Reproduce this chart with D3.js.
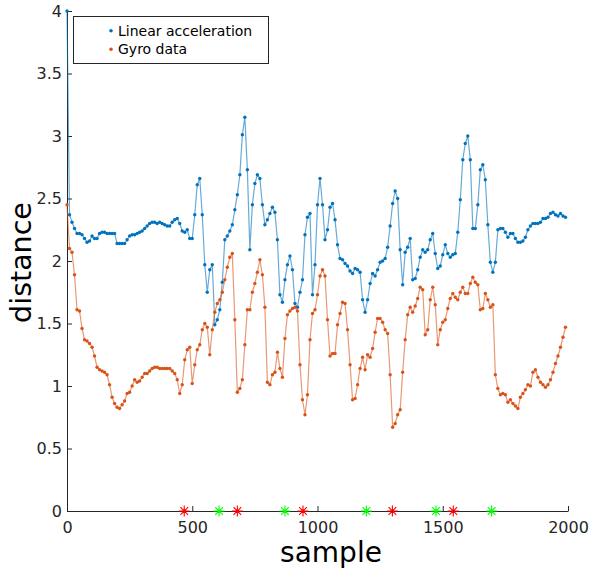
<!DOCTYPE html>
<html>
<head>
<meta charset="utf-8">
<script src="https://cdn.jsdelivr.net/npm/d3@7"></script>
<style>
body { margin: 0; background: #fff; }
text { font-family: "DejaVu Sans", sans-serif; }
</style>
</head>
<body>
<div id="chart"></div>
<script>
//////////////////////////////////////////////////////////////////////////////
// Data: one value every 10 samples

var sampleStep = 10;

var linearAcc = [
    4.00, 2.37, 2.31, 2.26, 2.22, 2.22, 2.21, 2.18, 2.15, 2.16,
    2.20, 2.18, 2.18, 2.22, 2.23, 2.23, 2.22, 2.22, 2.22, 2.22,
    2.14, 2.14, 2.14, 2.14, 2.17, 2.20, 2.21, 2.21, 2.22, 2.23,
    2.24, 2.26, 2.28, 2.30, 2.31, 2.31, 2.30, 2.31, 2.30, 2.29,
    2.28, 2.28, 2.31, 2.33, 2.34, 2.30, 2.24, 2.23, 2.25, 2.18,
    2.18, 2.37, 2.61, 2.66, 2.37, 1.97, 1.75, 1.93, 1.97, 1.49,
    1.53, 1.61, 1.83, 2.17, 2.20, 2.24, 2.29, 2.41, 2.53, 2.69,
    3.01, 3.15, 2.73, 2.09, 2.45, 2.62, 2.69, 2.66, 2.45, 2.29,
    2.33, 2.38, 2.43, 2.39, 2.17, 1.73, 1.67, 1.85, 1.97, 2.04,
    1.93, 1.66, 1.63, 1.75, 1.85, 2.21, 2.35, 2.38, 1.73, 1.97,
    2.45, 2.66, 2.45, 2.17, 2.25, 2.43, 2.46, 2.33, 2.13, 2.02,
    2.01, 1.98, 1.96, 1.92, 1.90, 1.94, 1.93, 1.91, 1.69, 1.59,
    1.69, 1.82, 1.90, 1.88, 1.93, 1.99, 2.00, 2.02, 2.11, 2.28,
    2.46, 2.56, 2.50, 2.09, 1.81, 2.07, 2.11, 2.18, 1.85, 1.86,
    1.93, 2.03, 2.09, 2.07, 2.09, 2.17, 2.22, 2.06, 1.94, 1.96,
    2.05, 2.13, 2.06, 2.03, 2.05, 2.06, 2.23, 2.49, 2.81, 2.94,
    3.00, 2.81, 2.26, 2.26, 2.45, 2.73, 2.77, 2.65, 2.29, 1.99,
    1.91, 1.99, 2.25, 2.26, 2.26, 2.23, 2.19, 2.22, 2.22, 2.18,
    2.15, 2.15, 2.16, 2.19, 2.25, 2.28, 2.30, 2.30, 2.30, 2.31,
    2.34, 2.34, 2.35, 2.38, 2.39, 2.37, 2.36, 2.38, 2.36, 2.35
];

var gyroData = [
    2.45, 2.10, 2.07, 1.89, 1.61, 1.60, 1.46, 1.37, 1.36, 1.34,
    1.31, 1.24, 1.15, 1.13, 1.12, 1.11, 1.09, 1.01, 0.91, 0.86,
    0.83, 0.82, 0.85, 0.88, 0.94, 0.95, 1.00, 1.05, 1.03, 1.04,
    1.07, 1.10, 1.10, 1.12, 1.14, 1.15, 1.15, 1.14, 1.14, 1.14,
    1.14, 1.14, 1.12, 1.10, 1.05, 0.94, 1.01, 1.21, 1.29, 1.31,
    1.02, 1.17, 1.29, 1.33, 1.45, 1.50, 1.47, 1.25, 1.45, 1.59,
    1.66, 1.69, 1.75, 1.85, 1.95, 2.03, 2.06, 1.53, 0.95, 0.98,
    1.05, 1.33, 1.61, 1.61, 1.75, 1.82, 1.91, 2.01, 1.89, 1.63,
    1.03, 1.01, 1.09, 1.11, 1.27, 1.14, 1.07, 1.38, 1.57, 1.60,
    1.62, 1.63, 1.60, 1.17, 0.89, 0.77, 0.93, 1.37, 1.58, 1.61,
    1.73, 1.88, 1.93, 1.88, 1.53, 1.24, 1.26, 1.26, 1.49, 1.58,
    1.67, 1.66, 1.45, 1.17, 0.89, 0.90, 1.01, 1.14, 1.23, 1.13,
    1.25, 1.23, 1.30, 1.43, 1.54, 1.54, 1.51, 1.45, 1.42, 1.09,
    0.67, 0.70, 0.77, 0.81, 1.11, 1.37, 1.57, 1.63, 1.59, 1.64,
    1.70, 1.79, 1.77, 1.41, 1.45, 1.69, 1.79, 1.65, 1.33, 1.45,
    1.51, 1.53, 1.62, 1.70, 1.74, 1.71, 1.69, 1.75, 1.79, 1.74,
    1.74, 1.82, 1.87, 1.83, 1.81, 1.61, 1.62, 1.74, 1.69, 1.63,
    1.65, 1.09, 0.98, 0.93, 0.94, 0.93, 0.87, 0.89, 0.86, 0.84,
    0.82, 0.91, 0.94, 0.97, 1.01, 1.00, 1.11, 1.13, 1.07, 1.03,
    1.01, 0.99, 1.01, 1.05, 1.11, 1.18, 1.24, 1.31, 1.39, 1.47
];

var redEvents   = [468, 680, 942, 1299, 1542];
var greenEvents = [607, 870, 1195, 1473, 1695];

var seriesNames = ["Linear acceleration", "Gyro data"];
var xTicks = [0, 500, 1000, 1500, 2000];
var yTicks = [0, 0.5, 1, 1.5, 2, 2.5, 3, 3.5, 4];

//////////////////////////////////////////////////////////////////////////////
// Global variables, preliminaries

var width = 590, height = 570;
var axisColor = "#262626";
var blue = "#0072bd", orange = "#d95319";

var xScale = d3.scaleLinear().domain([0, 2000]).range([67, 568]);
var yScale = d3.scaleLinear().domain([0, 4]).range([511, 11]);

var svg = d3.select("#chart")
    .append("svg")
    .attr("width", width)
    .attr("height", height);

function toPoints(values)
{
    return values.map(function(v, i) { return { s: i * sampleStep, v: v }; });
}

function drawSeries(values, color)
{
    var pts = toPoints(values);
    var line = d3.line()
        .x(function(d) { return xScale(d.s); })
        .y(function(d) { return yScale(d.v); });

    var g = svg.append("g");
    g.append("path")
        .datum(pts)
        .attr("d", line)
        .attr("fill", "none")
        .attr("stroke", color)
        .attr("stroke-opacity", 0.6)
        .attr("stroke-width", 1.2);

    g.selectAll("circle")
        .data(pts)
        .enter()
        .append("circle")
        .attr("cx", function(d) { return xScale(d.s); })
        .attr("cy", function(d) { return yScale(d.v); })
        .attr("r", 1.7)
        .attr("fill", color);
}

// MATLAB style '*' marker
function starPath(r)
{
    var d = r * 0.7;
    return "M" + (-r) + ",0L" + r + ",0" +
           "M0," + (-r) + "L0," + r +
           "M" + (-d) + "," + (-d) + "L" + d + "," + d +
           "M" + (-d) + "," + d + "L" + d + "," + (-d);
}

function drawStars(samples, color)
{
    svg.append("g")
        .selectAll("path")
        .data(samples)
        .enter()
        .append("path")
        .attr("transform", function(d) {
            return "translate(" + xScale(d) + "," + yScale(0) + ")";
        })
        .attr("d", starPath(5.5))
        .attr("stroke", color)
        .attr("stroke-width", 1.1)
        .attr("fill", "none");
}

//////////////////////////////////////////////////////////////////////////////
// Axes

var xAxis = d3.axisBottom(xScale).tickValues(xTicks)
    .tickSizeInner(-5).tickSizeOuter(0).tickPadding(11)
    .tickFormat(d3.format("d"));
var yAxis = d3.axisLeft(yScale).tickValues(yTicks)
    .tickSizeInner(-5).tickSizeOuter(0).tickPadding(5)
    .tickFormat(function(d) { return String(d); });

var gx = svg.append("g")
    .attr("transform", "translate(0," + yScale(0) + ")")
    .call(xAxis);
var gy = svg.append("g")
    .attr("transform", "translate(" + xScale(0) + ",0)")
    .call(yAxis);

[gx, gy].forEach(function(g) {
    g.select(".domain").attr("stroke", axisColor).attr("stroke-width", 1);
    g.selectAll(".tick line").attr("stroke", axisColor);
    g.selectAll(".tick text")
        .attr("fill", axisColor)
        .style("font-size", "16px")
        .style("font-family", "DejaVu Sans, sans-serif");
});

svg.append("text")
    .attr("x", 331)
    .attr("y", 562)
    .attr("text-anchor", "middle")
    .style("font-size", "28px")
    .attr("fill", "#000")
    .text("sample");

svg.append("text")
    .attr("transform", "translate(31,262.5) rotate(-90)")
    .attr("text-anchor", "middle")
    .style("font-size", "28.5px")
    .attr("fill", "#000")
    .text("distance");

//////////////////////////////////////////////////////////////////////////////
// Series

drawSeries(linearAcc, blue);
drawSeries(gyroData, orange);
drawStars(redEvents, "#ff0000");
drawStars(greenEvents, "#00ff00");

//////////////////////////////////////////////////////////////////////////////
// Legend

var legend = svg.append("g");
legend.append("rect")
    .attr("x", 73.5).attr("y", 16.5)
    .attr("width", 195).attr("height", 47)
    .attr("fill", "#fff")
    .attr("stroke", axisColor)
    .attr("stroke-width", 1);

var entries = legend.selectAll("g.entry")
    .data(seriesNames)
    .enter()
    .append("g")
    .attr("class", "entry")
    .attr("transform", function(d, i) { return "translate(111," + (30.7 + i * 18.6) + ")"; });

entries.append("circle")
    .attr("r", 1.8)
    .attr("fill", function(d, i) { return i === 0 ? blue : orange; });

entries.append("text")
    .attr("x", 7)
    .attr("dy", "0.36em")
    .style("font-size", "14px")
    .attr("fill", "#000")
    .text(function(d) { return d; });
</script>
</body>
</html>
